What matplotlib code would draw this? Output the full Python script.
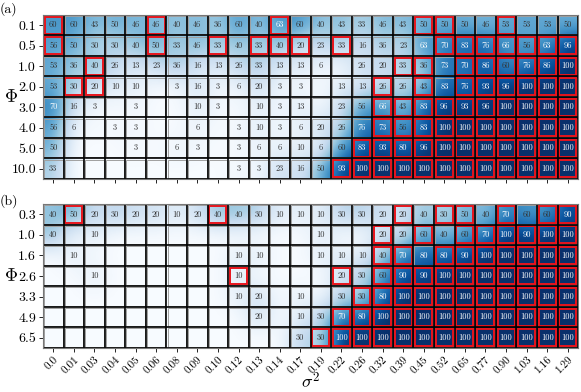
import numpy as np
import matplotlib
matplotlib.use("Agg")
import matplotlib.pyplot as plt
from matplotlib.patches import Rectangle

plt.rcParams["font.family"] = ["cmr10", "DejaVu Serif"]
plt.rcParams["mathtext.fontset"] = "cm"
plt.rcParams["axes.unicode_minus"] = False

sigma2_labels = ["0.0", "0.01", "0.03", "0.04", "0.05", "0.06", "0.08", "0.09",
                 "0.10", "0.12", "0.13", "0.14", "0.17", "0.19", "0.22", "0.26",
                 "0.32", "0.39", "0.45", "0.52", "0.65", "0.77", "0.90", "1.03",
                 "1.16", "1.29"]

# panel (a)
phi_a = ["0.1", "0.5", "1.0", "2.0", "3.0", "4.0", "5.0", "10.0"]
vals_a = [
    [60, 60, 43, 50, 46, 46, 40, 46, 36, 60, 40, 63, 60, 40, 43, 33, 46, 43, 50, 50, 50, 46, 53, 53, 53, 50],
    [56, 50, 30, 30, 40, 50, 33, 46, 33, 40, 33, 40, 20, 23, 33, 16, 36, 23, 63, 70, 83, 76, 66, 56, 63, 96],
    [53, 36, 40, 26, 13, 23, 36, 16, 13, 26, 33, 13, 13, 6, 0, 26, 20, 33, 36, 73, 70, 86, 60, 76, 86, 100],
    [53, 30, 20, 10, 10, 0, 3, 16, 3, 6, 20, 3, 3, 0, 13, 13, 26, 26, 43, 83, 76, 93, 96, 100, 100, 100],
    [70, 16, 3, 0, 3, 0, 0, 10, 3, 0, 10, 3, 13, 0, 23, 56, 66, 43, 83, 96, 93, 96, 100, 100, 100, 100],
    [56, 6, 0, 3, 3, 0, 0, 6, 0, 3, 10, 3, 6, 20, 26, 76, 73, 56, 83, 100, 100, 100, 100, 100, 100, 100],
    [50, 0, 0, 0, 3, 0, 6, 3, 0, 3, 6, 6, 10, 6, 60, 83, 93, 80, 96, 100, 100, 100, 100, 100, 100, 100],
    [33, 0, 0, 0, 0, 0, 0, 0, 0, 3, 3, 23, 16, 50, 93, 100, 100, 100, 100, 100, 100, 100, 100, 100, 100, 100],
]
red_a = [
    [0, 5, 11, 18, 19, 22],
    [0, 5, 8, 10, 11, 12, 14, 19, 20, 21, 22, 23, 24, 25],
    [2, 17, 18, 20, 21, 22, 23, 24, 25],
    [1, 2, 16, 18, 20, 21, 22, 23, 24, 25],
    list(range(16, 26)),
    list(range(16, 26)),
    list(range(15, 26)),
    list(range(14, 26)),
]

# panel (b)
phi_b = ["0.3", "1.0", "1.6", "2.6", "3.3", "4.9", "6.5"]
vals_b = [
    [40, 50, 20, 30, 20, 20, 10, 20, 40, 40, 30, 10, 10, 10, 30, 30, 20, 20, 40, 30, 50, 40, 70, 60, 60, 90],
    [40, 0, 10, 0, 0, 0, 0, 0, 0, 0, 0, 0, 0, 10, 0, 0, 20, 20, 60, 40, 60, 70, 100, 90, 100, 100],
    [0, 10, 0, 0, 0, 0, 0, 0, 0, 10, 10, 0, 0, 10, 10, 10, 40, 70, 80, 80, 90, 100, 100, 100, 100, 100],
    [0, 0, 10, 0, 0, 0, 0, 0, 0, 10, 0, 0, 0, 0, 20, 30, 60, 90, 90, 100, 100, 100, 100, 100, 100, 100],
    [0, 0, 0, 0, 0, 0, 0, 0, 0, 10, 20, 0, 10, 0, 30, 30, 80, 100, 100, 100, 100, 100, 100, 100, 100, 100],
    [0, 0, 0, 0, 0, 0, 0, 0, 0, 0, 20, 0, 10, 30, 70, 80, 100, 100, 100, 100, 100, 100, 100, 100, 100, 100],
    [0, 0, 0, 0, 0, 0, 0, 0, 0, 0, 0, 0, 30, 30, 100, 100, 100, 100, 100, 100, 100, 100, 100, 100, 100, 100],
]
red_b = [
    [1, 8, 17, 19, 20, 22, 24, 25],
    [16, 18, 20, 21, 22, 23, 24, 25],
    [16, 17, 19, 20, 21, 22, 23, 24, 25],
    [9, 14, 16, 17, 18, 19, 20, 21, 22, 23, 24, 25],
    list(range(15, 26)),
    list(range(14, 26)),
    list(range(13, 26)),
]


def draw_panel(ax, vals, red, phis, show_xlabels):
    data = np.array(vals, dtype=float)
    nr, nc = data.shape
    ax.imshow(data, cmap="Blues", vmin=0, vmax=100, interpolation="bicubic",
              extent=(-0.5, nc - 0.5, nr - 0.5, -0.5), aspect="auto")
    for i in range(nr):
        for j in range(nc):
            ax.add_patch(Rectangle((j - 0.45, i - 0.45), 0.9, 0.9, fill=False,
                                   edgecolor="#a0a0a0", lw=0.7))
            v = data[i, j]
            if v > 0:
                ax.text(j, i, f"{int(v)}", ha="center", va="center", fontsize=6,
                        color="white" if v > 60 else "#333333")
        for j in red[i]:
            ax.add_patch(Rectangle((j - 0.41, i - 0.41), 0.82, 0.82, fill=False,
                                   edgecolor="#e8141c", lw=1.4))
    for x in np.arange(-0.5, nc, 1):
        ax.axvline(x, color="black", lw=1.2)
    for y in np.arange(-0.5, nr, 1):
        ax.axhline(y, color="black", lw=1.2)
    ax.set_xlim(-0.5, nc - 0.5)
    ax.set_ylim(nr - 0.5, -0.5)
    ax.set_yticks(range(nr))
    ax.set_yticklabels(phis, fontsize=10)
    ax.set_xticks(range(nc))
    if show_xlabels:
        ax.set_xticklabels(sigma2_labels, fontsize=8, rotation=45, ha="right",
                           rotation_mode="anchor")
    else:
        ax.set_xticklabels([])
    ax.tick_params(length=3, width=0.6, pad=2)
    for s in ax.spines.values():
        s.set_color("#777777")
        s.set_linewidth(0.8)
    ax.set_ylabel(r"$\Phi$", fontsize=13, rotation=0, va="center")
    ax.yaxis.set_label_coords(-0.06, 0.5)


fig = plt.figure(figsize=(5.81, 3.92), dpi=100)
ax1 = fig.add_axes([0.074, 0.5434, 0.921, 0.4184])
ax2 = fig.add_axes([0.074, 0.1122, 0.921, 0.3673])

draw_panel(ax1, vals_a, red_a, phi_a, False)
draw_panel(ax2, vals_b, red_b, phi_b, True)
ax2.set_xlabel(r"$\sigma^2$", fontsize=13, labelpad=-4)

fig.text(0.0, 0.995, "(a)", fontsize=10, ha="left", va="top")
fig.text(0.0, 0.505, "(b)", fontsize=10, ha="left", va="top")

fig.savefig("out.png", dpi=100)
